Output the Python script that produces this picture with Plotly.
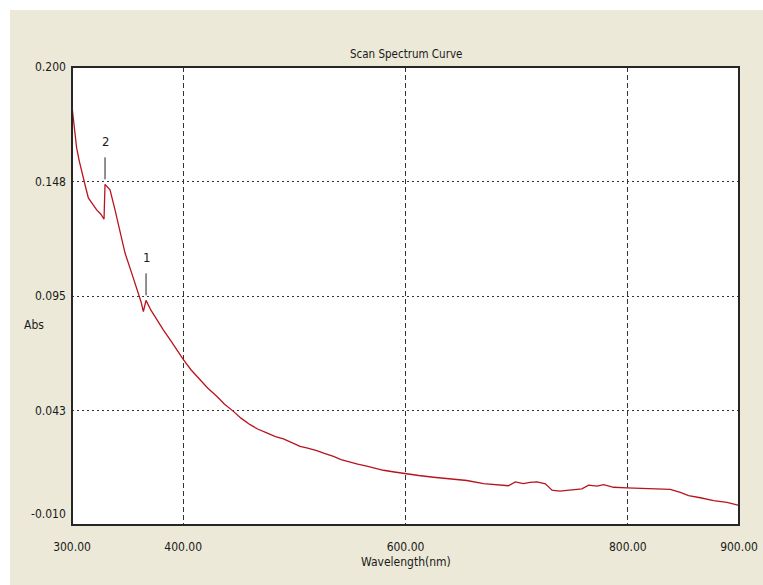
import plotly.graph_objects as go

# Scan spectrum: wavelength (nm) vs absorbance
wavelength = [300, 302, 304.2, 306.5, 308.7, 311.7, 314.7, 317.7, 322.2, 326.0, 328.8,
              329.7, 331.5, 334.2, 338.7, 343.2, 347.7, 353.7, 359.7, 362.0, 364.2,
              366.6, 371.0, 376.2, 382.0, 388.2, 394.0, 400.2, 407.0, 415.2, 422.0,
              430.2, 437.0, 445.2, 452.0, 460.2, 467.0, 475.2, 483.0, 490.2, 497.0,
              505.2, 512.0, 520.2, 527.0, 535.2, 542.0, 550.2, 557.0, 565.2, 572.0,
              580.2, 590.0, 599.7, 612.0, 625.2, 640.0, 655.2, 670.2, 685.2, 692.5,
              698.8, 706.0, 712.0, 718.3, 725.8, 731.8, 735.0, 739.2, 743.0, 748.2,
              753.0, 758.7, 764.7, 772.2, 778.2, 787.2, 799.2, 814.2, 829.2, 838.2,
              847.2, 854.7, 865.2, 877.2, 889.2, 900.0]
absorbance = [0.1818, 0.1720, 0.1628, 0.1570, 0.1520, 0.1460, 0.1400, 0.1376, 0.1345, 0.1325, 0.1302,
              0.1462, 0.1450, 0.1437, 0.1345, 0.1253, 0.1147, 0.1055, 0.0963, 0.0925, 0.0879,
              0.0930, 0.0885, 0.0841, 0.0796, 0.0750, 0.0705, 0.0658, 0.0612, 0.0566, 0.0528,
              0.0490, 0.0455, 0.0421, 0.0390, 0.0360, 0.0340, 0.0322, 0.0305, 0.0295, 0.0278,
              0.0261, 0.0252, 0.0241, 0.0228, 0.0215, 0.0200, 0.0188, 0.0179, 0.0170, 0.0160,
              0.0151, 0.0143, 0.0135, 0.0127, 0.0119, 0.0111, 0.0104, 0.0090, 0.0085, 0.0080,
              0.0098, 0.0090, 0.0095, 0.0098, 0.0089, 0.0060, 0.0058, 0.0055, 0.0058, 0.0060,
              0.0062, 0.0066, 0.0083, 0.0078, 0.0085, 0.0073, 0.0070, 0.0067, 0.0066, 0.0063,
              0.0050, 0.0035, 0.0025, 0.0012, 0.0004, -0.0010]

# Marked peaks
peak_labels = ["1", "2"]
peak_wavelength = [366.6, 329.7]
peak_abs = [0.0930, 0.1462]

# Axis ticks
x_tickvals = [300, 400, 600, 800, 900]
x_ticktext = ["300.00", "400.00", "600.00", "800.00", "900.00"]
y_tickvals = [0.200, 0.1475, 0.095, 0.0425, -0.010]
y_ticktext = ["0.200", "0.148", "0.095", "0.043", "-0.010"]

W, H = 763, 585
L, R, T, B = 72, 24, 67, 60
PW, PH = W - L - R, H - T - B

def px_x(px):
    return (px - L) / PW

def px_y(py):
    return (H - B - py) / PH

FONT = "DejaVu Sans Condensed, Liberation Sans Narrow, Arial Narrow, sans-serif"
TXT = "#1a1a1a"
BG = "#ECE9D8"
FS = 12

fig = go.Figure()
fig.add_trace(go.Scatter(
    x=wavelength, y=absorbance, mode="lines",
    line=dict(color="#B8141E", width=1.3),
    hoverinfo="x+y", showlegend=False,
))

shapes = [
    # white strips along the window edge
    dict(type="rect", xref="paper", yref="paper", x0=px_x(0), x1=px_x(10),
         y0=px_y(H), y1=px_y(0), fillcolor="white", line_width=0, layer="below"),
    dict(type="rect", xref="paper", yref="paper", x0=px_x(0), x1=px_x(W),
         y0=px_y(10), y1=px_y(0), fillcolor="white", line_width=0, layer="below"),
    # plot frame
    dict(type="rect", xref="paper", yref="paper", x0=0, x1=1, y0=0, y1=1,
         line=dict(color="#262626", width=2), fillcolor="rgba(0,0,0,0)", layer="above"),
]

annotations = []
for lab, wl, ab in zip(peak_labels, peak_wavelength, peak_abs):
    shapes.append(dict(type="line", xref="x", yref="y", ysizemode="pixel",
                       yanchor=ab, x0=wl, x1=wl, y0=5, y1=27,
                       line=dict(color="#222222", width=1)))
    annotations.append(dict(x=wl, y=ab, xref="x", yref="y", text=lab, showarrow=False,
                            yshift=43, font=dict(family=FONT, size=13, color=TXT)))

for i, (v, t) in enumerate(zip(y_tickvals, y_ticktext)):
    annotations.append(dict(x=0, y=v, xref="paper", yref="y", text=t, showarrow=False,
                            xanchor="right", yanchor="middle", xshift=-4,
                            yshift=11 if i == len(y_tickvals) - 1 else 0,
                            font=dict(family=FONT, size=FS, color=TXT)))

annotations.append(dict(x=px_x(22), y=px_y(325), xref="paper", yref="paper", text="Abs",
                        showarrow=False, font=dict(family=FONT, size=FS, color=TXT)))
annotations.append(dict(x=px_x(406), y=px_y(571), xref="paper", yref="paper",
                        text="Wavelength(nm)", showarrow=False,
                        font=dict(family=FONT, size=FS, color=TXT)))
annotations.append(dict(x=px_x(406), y=px_y(45), xref="paper", yref="paper",
                        text="Scan Spectrum Curve", showarrow=False,
                        font=dict(family=FONT, size=11.5, color=TXT)))

fig.update_layout(
    width=W, height=H,
    margin=dict(l=L, r=R, t=T, b=B, autoexpand=False),
    paper_bgcolor=BG, plot_bgcolor="white",
    shapes=shapes, annotations=annotations,
    xaxis=dict(range=[300, 900], tickvals=x_tickvals, ticktext=x_ticktext,
               showgrid=True, gridcolor="#333333", gridwidth=1, griddash="5px,3px",
               zeroline=False, showline=False, ticks="", ticklabelstandoff=13,
               automargin=False,
               tickfont=dict(family=FONT, size=FS, color=TXT)),
    yaxis=dict(range=[-0.010, 0.200], tickvals=y_tickvals, showticklabels=False,
               showgrid=True, gridcolor="#333333", gridwidth=1, griddash="2px,3px",
               zeroline=False, showline=False, ticks="", automargin=False),
)

fig.write_html("out.html")
